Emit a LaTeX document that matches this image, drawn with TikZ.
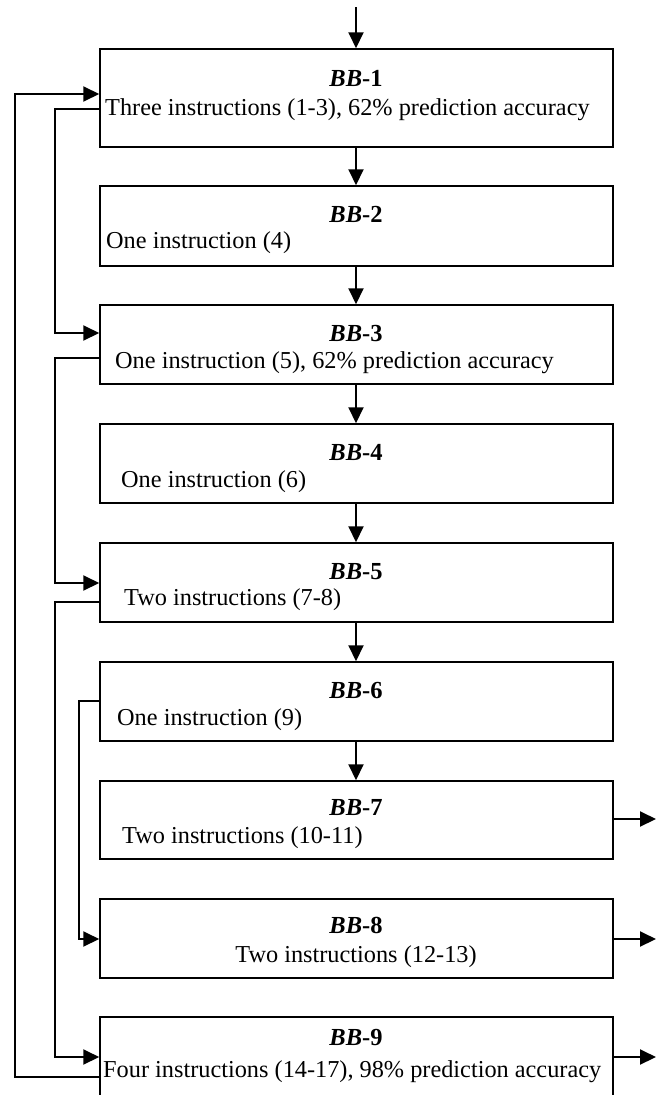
\documentclass[tikz,border=0pt]{standalone}
\usepackage{fontspec}
\setmainfont{Liberation Serif}
\usetikzlibrary{arrows.meta}
\begin{document}
\begin{tikzpicture}[x=1pt,y=-1pt,
  bbox/.style={draw,line width=1.5pt,minimum width=513pt,inner sep=0pt,rectangle},
  ttl/.style={anchor=base,inner sep=0pt,font=\fontsize{24.5}{28}\selectfont\bfseries},
  body/.style={anchor=base west,inner sep=0pt,font=\fontsize{24.3}{28}\selectfont},
  conn/.style={line width=2pt},
  arr/.style={conn,-{Triangle[length=16pt,width=15pt]}}]
\useasboundingbox (0,0) rectangle (660,1095);
% boxes
\node[bbox,minimum height=98pt] (b1) at (356.5,98) {};
\node[bbox,minimum height=80pt] (b2) at (356.5,226) {};
\node[bbox,minimum height=79pt] (b3) at (356.5,344.5) {};
\node[bbox,minimum height=79pt] (b4) at (356.5,463.5) {};
\node[bbox,minimum height=79pt] (b5) at (356.5,582.5) {};
\node[bbox,minimum height=79pt] (b6) at (356.5,701.5) {};
\node[bbox,minimum height=78pt] (b7) at (356.5,820) {};
\node[bbox,minimum height=79pt] (b8) at (356.5,938.5) {};
\node[bbox,minimum height=80pt] (b9) at (356.5,1057) {};
% titles
\node[ttl] (t1) at (356,86) {\textit{BB}-1};
\node[ttl] (t2) at (356,222) {\textit{BB}-2};
\node[ttl] (t3) at (356,341) {\textit{BB}-3};
\node[ttl] (t4) at (356,460) {\textit{BB}-4};
\node[ttl] (t5) at (356,579) {\textit{BB}-5};
\node[ttl] (t6) at (356,698) {\textit{BB}-6};
\node[ttl] (t7) at (356,815) {\textit{BB}-7};
\node[ttl] (t8) at (356,933) {\textit{BB}-8};
\node[ttl] (t9) at (356,1045) {\textit{BB}-9};
% body texts
\node[body] (x1) at (105,115) {Three instructions (1-3), 62\% prediction accuracy};
\node[body] (x2) at (106,248) {One instruction (4)};
\node[body] (x3) at (115,368) {One instruction (5), 62\% prediction accuracy};
\node[body] (x4) at (121,487) {One instruction (6)};
\node[body] (x5) at (124,605) {Two instructions (7-8)};
\node[body] (x6) at (117,725) {One instruction (9)};
\node[body] (x7) at (122,843) {Two instructions (10-11)};
\node[body,anchor=base] (x8) at (356,962) {Two instructions (12-13)};
\node[body] (x9) at (103,1077) {Four instructions (14-17), 98\% prediction accuracy};
% entry and exits
\coordinate (in) at (356,7);
\coordinate (o7) at (656,819);
\coordinate (o8) at (656,939);
\coordinate (o9) at (656,1057);
\draw[arr] (in) -- (in |- b1.north);
\foreach \a/\b in {b1/b2,b2/b3,b3/b4,b4/b5,b5/b6,b6/b7}
  \draw[arr] (in |- \a.south) -- (in |- \b.north);
\draw[arr] (b7.east |- o7) -- (o7);
\draw[arr] (b8.east |- o8) -- (o8);
\draw[arr] (b9.east |- o9) -- (o9);
% back edges
\draw[arr] (b9.west |- 0,1077) -| (15,94) -- (b1.west |- 0,94);
\draw[arr] (b1.west |- 0,109) -| (55,333) -- (b3.west |- 0,333);
\draw[arr] (b3.west |- 0,358) -| (55,583) -- (b5.west |- 0,583);
\draw[arr] (b5.west |- 0,602) -| (55,1057) -- (b9.west |- 0,1057);
\draw[arr] (b6.west |- 0,701) -| (79,939) -- (b8.west |- 0,939);
\end{tikzpicture}
\end{document}
